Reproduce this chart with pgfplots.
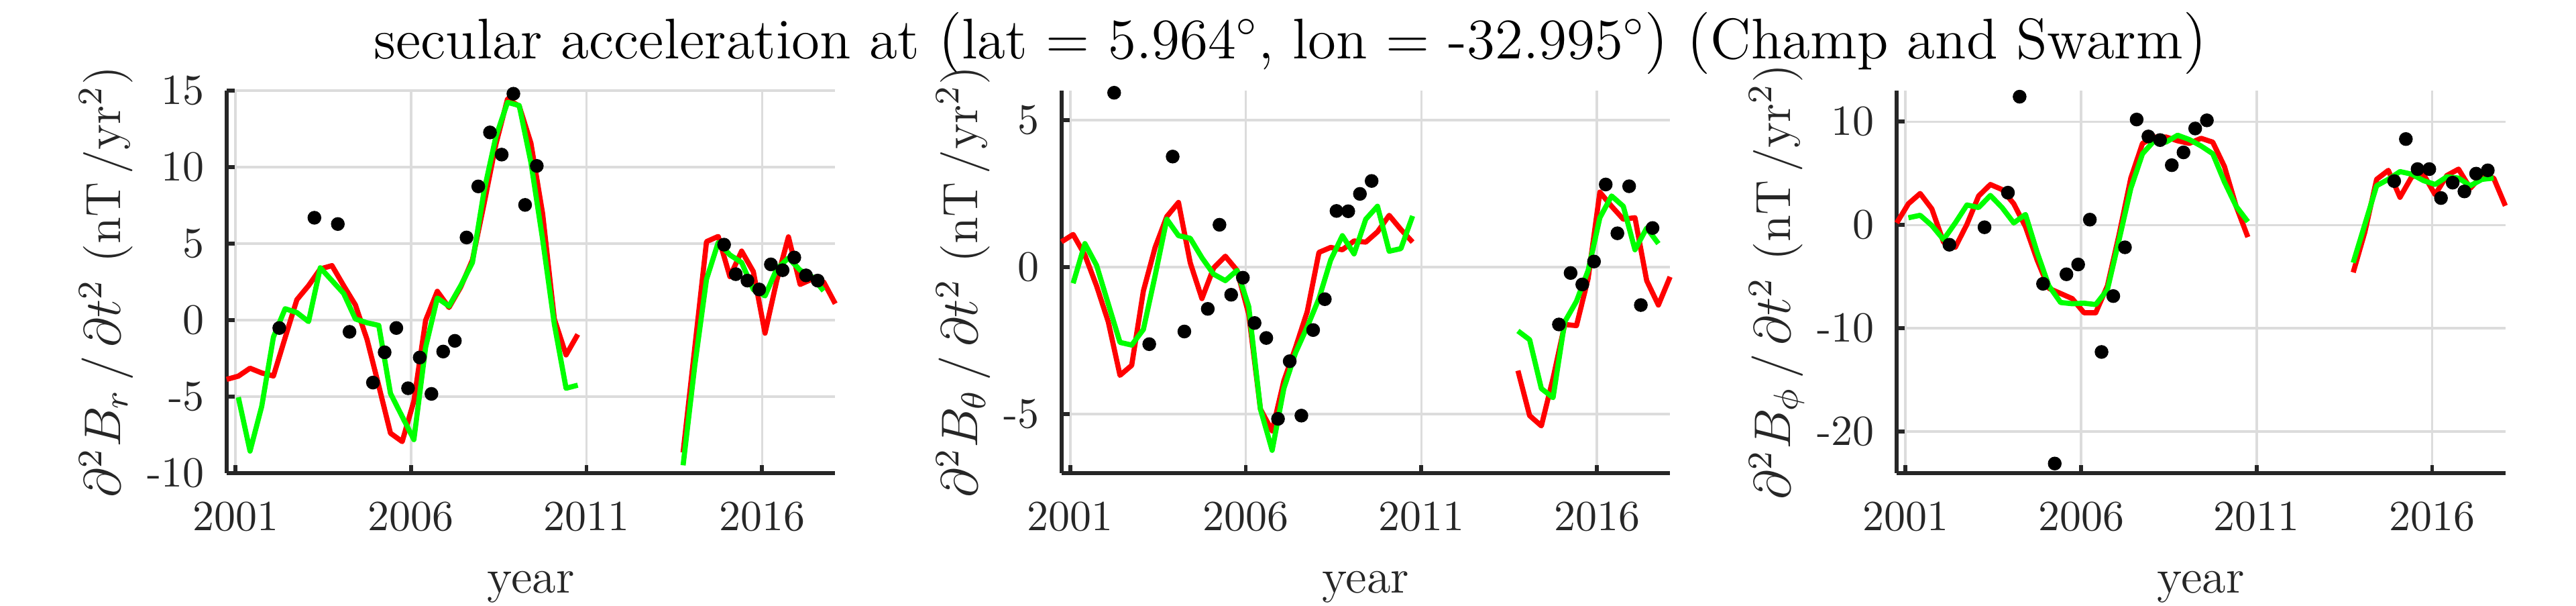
\documentclass[border=0pt]{standalone}
\usepackage{pgfplots}
\pgfplotsset{compat=1.18}
\definecolor{axgray}{rgb}{0.15,0.15,0.15}
\definecolor{gridgray}{RGB}{220,220,220}
\definecolor{mred}{rgb}{1,0,0}
\definecolor{mgreen}{rgb}{0,1,0}
\pgfplotsset{
  panel/.style={
    scale only axis, width=141.8pt, height=89pt,
    xmin=2000.75, xmax=2018.0833,
    axis x line*=bottom, axis y line*=left,
    axis line style={axgray, line width=0.9pt},
    every tick/.style={axgray, line width=0.9pt},
    major tick length=1.85pt,
    tick align=inside,
    xtick={2001,2006,2011,2016},
    xticklabels={2001,2006,2011,2016},
    grid=major,
    major grid style={gridgray, line width=0.55pt},
    ticklabel style={font=\fontsize{10}{12}\selectfont, text=axgray},
    xticklabel style={anchor=north, inner sep=0pt, yshift=-6.5pt},
    yticklabel style={anchor=east, inner sep=0pt, xshift=-5pt},
    xlabel={year},
    every axis x label/.style={at={(axis description cs:0.5,0)}, anchor=base, yshift=-28pt, inner sep=0pt, font=\fontsize{11.3}{13}\selectfont, text=axgray},
    every axis y label/.style={rotate=90, anchor=base, inner sep=0pt, font=\fontsize{11.5}{13}\selectfont, text=axgray},
    unbounded coords=jump,
    clip=false,
  },
  dots/.style={only marks, mark=*, mark size=1.4pt, black, mark options={draw=black, fill=black}},
  redl/.style={mred, line width=1.2pt, no marks, line join=round},
  greenl/.style={mgreen, line width=1.2pt, no marks, line join=round},
}
\begin{document}
\begin{tikzpicture}
\useasboundingbox (0,0) rectangle (600.16pt,141.09pt);
\node[anchor=base, font=\fontsize{13.35}{16}\selectfont, inner sep=0pt] at (300.6pt,127.4pt)
  {secular acceleration at $\big($lat = 5.964$^\circ$, lon = -32.995$^\circ\big)$ $\big($Champ and Swarm$\big)$};

% ---------------- Panel 1: B_r
\begin{axis}[panel, at={(52.8pt,30.97pt)}, anchor=south west,
  ymin=-10, ymax=15, ytick={-10,-5,0,5,10,15}, yticklabels={-10,-5,0,5,10,15},
  ylabel={$\partial^2 B_r\,/\,\partial t^2$ (nT\,/yr$^2$)},
  ylabel style={at={(axis description cs:-0.175,0.5)}}]
\addplot[dots] table {
2002.250 -0.52
2003.250 6.69
2003.917 6.28
2004.250 -0.77
2004.917 -4.09
2005.250 -2.11
2005.583 -0.52
2005.917 -4.46
2006.250 -2.45
2006.583 -4.83
2006.917 -2.06
2007.250 -1.36
2007.583 5.40
2007.917 8.74
2008.250 12.27
2008.583 10.82
2008.917 14.80
2009.250 7.53
2009.583 10.08
2014.917 4.93
2015.250 3.00
2015.583 2.58
2015.917 2.00
2016.250 3.64
2016.583 3.26
2016.917 4.09
2017.250 2.92
2017.583 2.58
};
\addplot[redl] table {
2000.750 -3.88
2001.083 -3.67
2001.417 -3.15
2001.750 -3.46
2002.083 -3.66
2002.417 -1.15
2002.750 1.33
2003.083 2.25
2003.417 3.34
2003.750 3.56
2004.083 2.25
2004.417 0.99
2004.750 -1.28
2005.083 -4.30
2005.417 -7.40
2005.750 -7.95
2006.083 -5.30
2006.417 -0.02
2006.750 1.88
2007.083 0.82
2007.417 2.16
2007.750 3.93
2008.083 7.62
2008.417 11.48
2008.750 14.46
2009.083 13.99
2009.417 11.56
2009.750 6.95
2010.083 0.07
2010.417 -2.28
2010.750 -0.94
2012.000 nan
2013.750 -8.66
2014.083 -1.80
2014.417 5.13
2014.750 5.47
2015.083 2.84
2015.417 4.51
2015.750 3.17
2016.083 -0.86
2016.417 2.58
2016.750 5.44
2017.083 2.33
2017.417 2.67
2017.750 2.50
2018.083 1.07
};
\addplot[greenl] table {
2001.083 -5.05
2001.417 -8.57
2001.750 -5.64
2002.083 -1.11
2002.417 0.74
2002.750 0.49
2003.083 -0.10
2003.417 3.42
2003.750 2.58
2004.083 1.74
2004.417 0.07
2004.750 -0.18
2005.083 -0.35
2005.417 -4.80
2005.750 -6.31
2006.083 -7.82
2006.417 -1.78
2006.750 1.44
2007.083 0.91
2007.417 2.25
2007.750 3.76
2008.083 8.46
2008.417 11.98
2008.750 14.24
2009.083 14.03
2009.417 10.30
2009.750 5.27
2010.083 -0.27
2010.417 -4.46
2010.750 -4.26
2012.000 nan
2013.750 -9.50
2014.083 -2.97
2014.417 2.67
2014.750 5.07
2015.083 4.26
2015.417 3.76
2015.750 2.00
2016.083 1.58
2016.417 3.34
2016.750 4.06
2017.083 3.26
2017.417 2.84
2017.750 1.91
};
\end{axis}

% ---------------- Panel 2: B_theta
\begin{axis}[panel, at={(247.3pt,30.97pt)}, anchor=south west,
  ymin=-7, ymax=6, ytick={-5,0,5}, yticklabels={-5,0,5},
  ylabel={$\partial^2 B_\theta\,/\,\partial t^2$ (nT\,/yr$^2$)},
  ylabel style={at={(axis description cs:-0.138,0.5)}}]
\addplot[dots] table {
2002.250 5.93
2003.250 -2.62
2003.917 3.76
2004.250 -2.19
2004.917 -1.42
2005.250 1.44
2005.583 -0.94
2005.917 -0.36
2006.250 -1.90
2006.583 -2.41
2006.917 -5.16
2007.250 -3.20
2007.583 -5.05
2007.917 -2.14
2008.250 -1.09
2008.583 1.91
2008.917 1.90
2009.250 2.49
2009.583 2.93
2014.917 -1.95
2015.250 -0.20
2015.583 -0.59
2015.917 0.19
2016.250 2.81
2016.583 1.15
2016.917 2.75
2017.250 -1.29
2017.583 1.33
};
\addplot[redl] table {
2000.750 0.86
2001.083 1.11
2001.417 0.41
2001.750 -0.64
2002.083 -1.86
2002.417 -3.68
2002.750 -3.34
2003.083 -0.81
2003.417 0.67
2003.750 1.72
2004.083 2.20
2004.417 0.15
2004.750 -1.07
2005.083 -0.03
2005.417 0.37
2005.750 -0.11
2006.083 -1.60
2006.417 -4.83
2006.750 -5.57
2007.083 -3.87
2007.417 -2.73
2007.750 -1.51
2008.083 0.50
2008.417 0.67
2008.750 0.59
2009.083 0.89
2009.417 0.85
2009.750 1.20
2010.083 1.76
2010.417 1.28
2010.750 0.85
2012.000 nan
2013.750 -3.52
2014.083 -5.05
2014.417 -5.40
2014.750 -3.78
2015.083 -1.95
2015.417 -1.99
2015.750 -0.38
2016.083 2.55
2016.417 2.07
2016.750 1.63
2017.083 1.68
2017.417 -0.46
2017.750 -1.29
2018.083 -0.33
};
\addplot[greenl] table {
2001.083 -0.55
2001.417 0.80
2001.750 0.06
2002.083 -1.25
2002.417 -2.56
2002.750 -2.65
2003.083 -2.12
2003.417 -0.29
2003.750 1.63
2004.083 1.07
2004.417 0.98
2004.750 0.32
2005.083 -0.24
2005.417 -0.46
2005.750 -0.11
2006.083 -1.34
2006.417 -4.83
2006.750 -6.23
2007.083 -4.13
2007.417 -2.91
2007.750 -2.03
2008.083 -1.07
2008.417 0.24
2008.750 1.07
2009.083 0.45
2009.417 1.63
2009.750 2.07
2010.083 0.54
2010.417 0.63
2010.750 1.74
2012.000 nan
2013.750 -2.17
2014.083 -2.47
2014.417 -4.13
2014.750 -4.44
2015.083 -1.86
2015.417 -1.16
2015.750 -0.11
2016.083 1.68
2016.417 2.42
2016.750 2.07
2017.083 0.59
2017.417 1.33
2017.750 0.80
};
\end{axis}

% ---------------- Panel 3: B_phi
\begin{axis}[panel, at={(441.9pt,30.97pt)}, anchor=south west,
  ymin=-24, ymax=13, ytick={-20,-10,0,10}, yticklabels={-20,-10,0,10},
  ylabel={$\partial^2 B_\phi\,/\,\partial t^2$ (nT\,/yr$^2$)},
  ylabel style={at={(axis description cs:-0.175,0.5)}}]
\addplot[dots] table {
2002.250 -1.91
2003.250 -0.22
2003.917 3.13
2004.250 12.42
2004.917 -5.69
2005.250 -23.09
2005.583 -4.77
2005.917 -3.82
2006.250 0.52
2006.583 -12.29
2006.917 -6.88
2007.250 -2.16
2007.583 10.21
2007.917 8.57
2008.250 8.22
2008.583 5.79
2008.917 7.03
2009.250 9.34
2009.583 10.13
2014.917 4.25
2015.250 8.32
2015.583 5.41
2015.917 5.41
2016.250 2.61
2016.583 4.10
2016.917 3.25
2017.250 4.97
2017.583 5.29
};
\addplot[redl] table {
2000.750 0.20
2001.083 2.06
2001.417 3.05
2001.750 1.56
2002.083 -1.66
2002.417 -2.16
2002.750 0.07
2003.083 2.81
2003.417 3.92
2003.750 3.43
2004.083 2.06
2004.417 -0.17
2004.750 -3.40
2005.083 -6.13
2005.417 -6.63
2005.750 -7.13
2006.083 -8.49
2006.417 -8.49
2006.750 -5.89
2007.083 -0.92
2007.417 4.54
2007.750 7.90
2008.083 8.52
2008.417 8.52
2008.750 8.15
2009.083 7.90
2009.417 8.39
2009.750 8.02
2010.083 5.66
2010.417 1.81
2010.750 -1.17
2012.000 nan
2013.750 -4.59
2014.083 -0.67
2014.417 4.42
2014.750 5.29
2015.083 2.68
2015.417 4.67
2015.750 4.92
2016.083 2.93
2016.417 4.79
2016.750 5.41
2017.083 3.55
2017.417 4.79
2017.750 4.54
2018.083 1.86
};
\addplot[greenl] table {
2001.083 0.70
2001.417 0.94
2001.750 -0.05
2002.083 -1.42
2002.417 0.20
2002.750 1.94
2003.083 1.69
2003.417 2.86
2003.750 1.69
2004.083 0.20
2004.417 1.02
2004.750 -2.66
2005.083 -5.89
2005.417 -7.50
2005.750 -7.62
2006.083 -7.57
2006.417 -7.70
2006.750 -6.26
2007.083 -1.42
2007.417 3.55
2007.750 6.90
2008.083 8.15
2008.417 8.02
2008.750 8.69
2009.083 8.27
2009.417 7.65
2009.750 6.90
2010.083 4.17
2010.417 1.81
2010.750 0.32
2012.000 nan
2013.750 -3.65
2014.083 0.07
2014.417 3.80
2014.750 4.42
2015.083 5.17
2015.417 4.92
2015.750 4.30
2016.083 3.92
2016.417 4.67
2016.750 4.54
2017.083 3.80
2017.417 4.42
2017.750 4.54
};
\end{axis}
\end{tikzpicture}
\end{document}
